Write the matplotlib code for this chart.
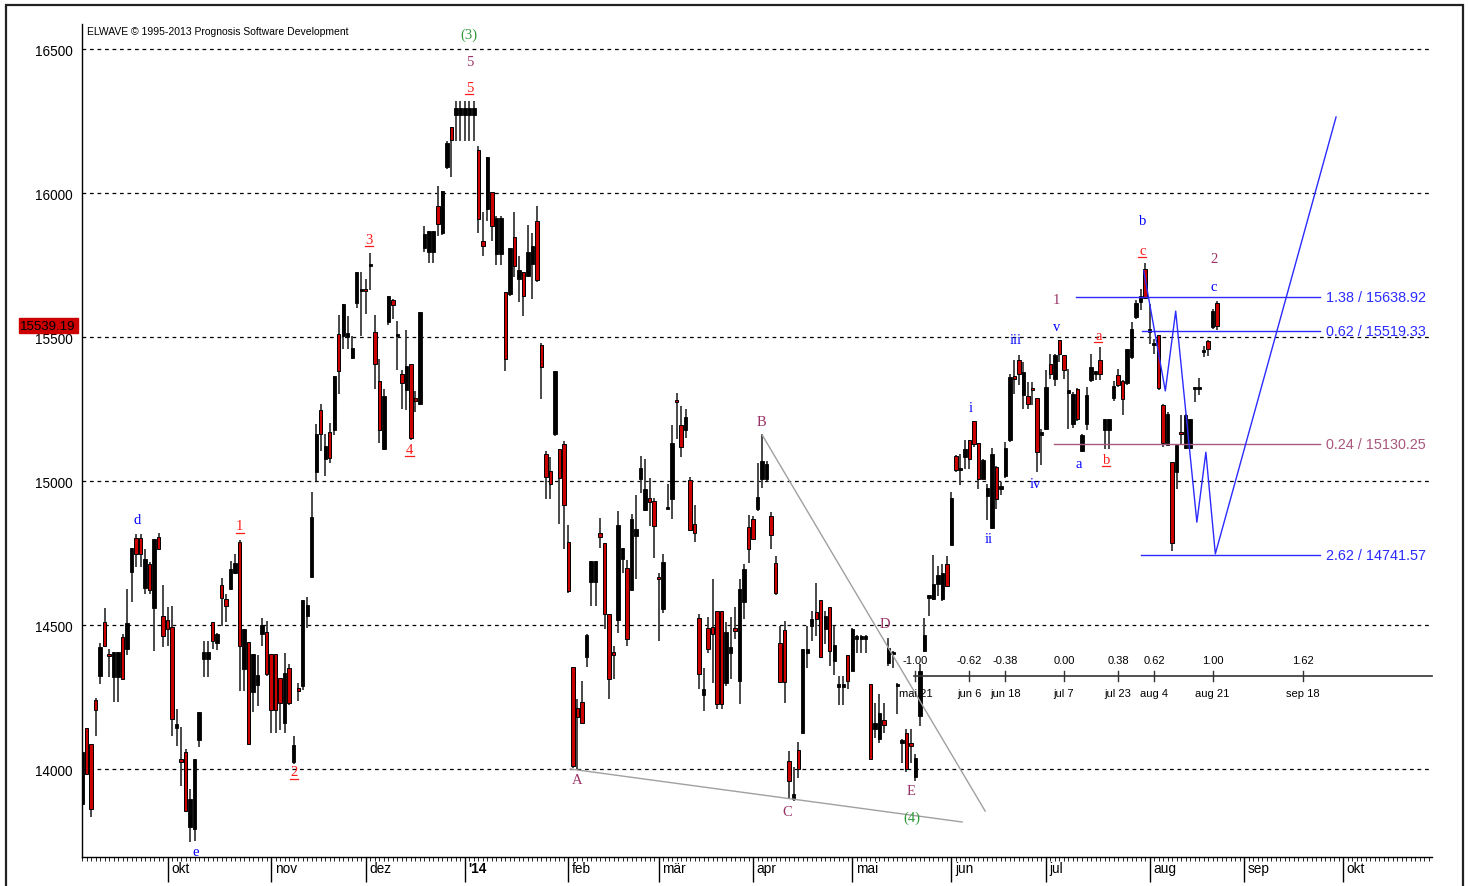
import matplotlib
matplotlib.use('Agg')
import matplotlib.pyplot as plt
import matplotlib.transforms as mtransforms
from matplotlib.patches import Rectangle
import numpy as np
import pandas as pd

# daily candles from 2013-09-04 to 2014-08-22, one per weekday
# (holidays repeat the bar before them, as ELWAVE draws it)
opens = [13878, 14141, 14087, 14240, 14324, 14509, 14399, 14318, 14318, 14457,
         14417, 14685, 14801, 14801, 14628, 14712, 14558, 14807, 14530, 14518,
         14492, 14141, 14028, 14058, 13797, 13792, 14102, 14382, 14382, 14509,
         14437, 14639, 14590, 14625, 14681, 14789, 14347, 14440, 14266, 14292,
         14469, 14475, 14400, 14400, 14316, 14159, 14352, 14025, 14283, 14288,
         14531, 14668, 15032, 15247, 15077, 15169, 15176, 15510, 15504, 15500,
         15427, 15619, 15660, 15668, 15745, 15516, 15349, 15110, 15553, 15629,
         15503, 15373, 15315, 15405, 15288, 15268, 15808, 15794, 15794, 15956,
         15863, 16089, 16231, 16271, 16271, 16271, 16271, 16271, 16150, 15834,
         15944, 16002, 15788, 15788, 15655, 15649, 15846, 15701, 15725, 15713,
         15753, 15902, 15472, 15094, 15036, 15163, 15110, 15130, 14789, 14355,
         14213, 14233, 14390, 14649, 14649, 14821, 14786, 14537, 14404, 14517,
         14730, 14699, 14622, 14809, 15008, 14898, 14942, 14931, 14664, 14554,
         14902, 14939, 15278, 15193, 15177, 15003, 14850, 14525, 14256, 14491,
         14494, 14549, 14549, 14300, 14404, 14491, 14306, 14580, 14840, 14869,
         14902, 15008, 15008, 14878, 14716, 14436, 14483, 14028, 13895, 14066,
         14126, 14404, 14497, 14545, 14587, 14485, 14564, 14375, 14286, 14286,
         14395, 14340, 14453, 14453, 14453, 14294, 14138, 14103, 14170, 14367,
         14398, 14288, 14092, 14126, 14089, 13973, 14184, 14410, 14595, 14589,
         14641, 14589, 14711, 14777, 15087, 15037, 15083, 15141, 15207, 15132,
         15006, 14948, 14837, 15049, 14971, 15017, 15141, 15361, 15419, 15300,
         15297, 15321, 15288, 15161, 15182, 15407, 15355, 15488, 15436, 15307,
         15199, 15318, 15106, 15199, 15350, 15373, 15422, 15176, 15176, 15288,
         15369, 15346, 15341, 15431, 15569, 15622, 15735, 15517, 15473, 15508,
         15263, 15126, 15066, 15031, 15170, 15115, 15115, 15318, 15319, 15448,
         15485, 15535, 15618]
highs = [14058, 14141, 14087, 14246, 14436, 14558, 14417, 14405, 14405, 14469,
         14625, 14767, 14816, 14816, 14764, 14718, 14799, 14818, 14639, 14561,
         14565, 14208, 14145, 14069, 13930, 14035, 14197, 14445, 14445, 14511,
         14474, 14665, 14608, 14723, 14747, 14795, 14486, 14440, 14399, 14396,
         14523, 14515, 14400, 14400, 14316, 14403, 14365, 14114, 14298, 14586,
         14596, 14962, 15197, 15269, 15164, 15203, 15365, 15576, 15615, 15572,
         15505, 15725, 15725, 15700, 15793, 15576, 15424, 15318, 15644, 15632,
         15554, 15384, 15524, 15405, 15313, 15586, 15887, 15869, 15869, 16025,
         16008, 16182, 16231, 16321, 16321, 16321, 16321, 16321, 16162, 15933,
         16124, 16002, 15921, 15921, 15655, 15808, 15935, 15780, 15725, 15889,
         15863, 15956, 15481, 15105, 15082, 15383, 15110, 15139, 14846, 14355,
         14242, 14306, 14468, 14722, 14722, 14873, 14786, 14537, 14427, 14896,
         14768, 14726, 14884, 14950, 15087, 15078, 15012, 14942, 14682, 14746,
         14988, 15194, 15307, 15260, 15251, 15015, 14916, 14537, 14352, 14529,
         14659, 14549, 14549, 14510, 14529, 14564, 14659, 14711, 14881, 14878,
         15064, 15162, 15069, 14892, 14740, 14497, 14514, 14062, 14006, 14094,
         14418, 14497, 14549, 14647, 14587, 14549, 14564, 14497, 14323, 14323,
         14395, 14491, 14464, 14464, 14464, 14294, 14230, 14259, 14230, 14456,
         14410, 14300, 14104, 14140, 14140, 14051, 14363, 14526, 14603, 14742,
         14705, 14711, 14740, 14962, 15091, 15095, 15141, 15141, 15207, 15132,
         15076, 14991, 15115, 15052, 14997, 15135, 15373, 15419, 15439, 15413,
         15344, 15344, 15288, 15179, 15384, 15442, 15442, 15488, 15436, 15390,
         15309, 15323, 15164, 15326, 15442, 15381, 15465, 15216, 15216, 15346,
         15388, 15350, 15457, 15552, 15627, 15668, 15758, 15616, 15494, 15508,
         15269, 15240, 15066, 15124, 15228, 15234, 15216, 15326, 15358, 15469,
         15488, 15598, 15624]
lows = [13838, 13983, 13832, 14116, 14295, 14422, 14318, 14234, 14234, 14312,
        14397, 14579, 14700, 14700, 14607, 14607, 14409, 14762, 14424, 14428,
        14113, 14081, 13942, 13855, 13745, 13751, 14075, 14318, 14318, 14417,
        14414, 14498, 14509, 14623, 14678, 14272, 14272, 14087, 14197, 14220,
        14428, 14324, 14124, 14124, 14136, 14124, 14224, 14019, 14236, 14273,
        14490, 14668, 14999, 15105, 15017, 15064, 15160, 15303, 15458, 15458,
        15424, 15600, 15505, 15580, 15663, 15321, 15133, 15107, 15541, 15564,
        15384, 15251, 15246, 15142, 15241, 15263, 15794, 15756, 15756, 15850,
        15854, 16083, 16054, 16182, 16182, 16182, 16182, 16182, 15863, 15782,
        15904, 15834, 15750, 15750, 15383, 15643, 15707, 15620, 15574, 15711,
        15632, 15690, 15285, 14938, 14938, 15157, 14850, 14763, 14612, 14004,
        13999, 14159, 14355, 14566, 14566, 14769, 14485, 14243, 14314, 14474,
        14682, 14428, 14618, 14659, 14960, 14896, 14844, 14734, 14444, 14542,
        14902, 14869, 15145, 15084, 15148, 14826, 14788, 14279, 14200, 14402,
        14297, 14207, 14207, 14287, 14312, 14450, 14225, 14520, 14717, 14795,
        14896, 14977, 15000, 14763, 14603, 14302, 14230, 13895, 13889, 13970,
        14126, 14352, 14445, 14462, 14390, 14433, 14358, 14325, 14221, 14221,
        14277, 14340, 14404, 14404, 14404, 14034, 14109, 14089, 14126, 14358,
        14352, 14190, 14022, 13990, 14022, 13958, 14150, 14407, 14531, 14587,
        14601, 14583, 14635, 14777, 15031, 14985, 15043, 15043, 15118, 14973,
        15006, 14863, 14834, 14904, 14950, 15010, 15135, 15303, 15334, 15249,
        15251, 15263, 15031, 15054, 15176, 15355, 15330, 15413, 15355, 15182,
        15184, 15210, 15100, 15176, 15344, 15350, 15350, 15112, 15112, 15279,
        15326, 15230, 15332, 15425, 15564, 15593, 15633, 15477, 15442, 15315,
        15118, 15124, 14756, 14973, 15124, 15112, 15112, 15274, 15298, 15431,
        15434, 15527, 15523]
closes = [14058, 13983, 13861, 14206, 14425, 14428, 14391, 14405, 14405, 14312,
          14506, 14767, 14746, 14746, 14731, 14622, 14799, 14764, 14461, 14486,
          14174, 14156, 14026, 13855, 13896, 14035, 14197, 14405, 14405, 14445,
          14469, 14593, 14565, 14694, 14714, 14428, 14486, 14087, 14399, 14326,
          14500, 14330, 14205, 14205, 14230, 14333, 14230, 14084, 14270, 14586,
          14568, 14875, 15164, 15164, 15123, 15079, 15365, 15381, 15615, 15515,
          15461, 15725, 15666, 15660, 15750, 15408, 15176, 15296, 15644, 15610,
          15510, 15340, 15400, 15151, 15278, 15586, 15858, 15869, 15869, 15892,
          16008, 16174, 16185, 16294, 16294, 16294, 16294, 16294, 15910, 15817,
          16124, 15884, 15912, 15912, 15424, 15808, 15748, 15734, 15644, 15794,
          15817, 15699, 15395, 15013, 14990, 15383, 15012, 14916, 14618, 14010,
          14182, 14159, 14464, 14722, 14722, 14807, 14537, 14314, 14397, 14846,
          14768, 14453, 14869, 14835, 15046, 14973, 14927, 14844, 14659, 14719,
          14908, 15133, 15274, 15119, 15222, 14830, 14821, 14329, 14277, 14418,
          14468, 14225, 14225, 14476, 14425, 14479, 14624, 14696, 14763, 14797,
          14946, 15069, 15060, 14811, 14610, 14302, 14302, 13958, 13912, 13999,
          14418, 14416, 14520, 14520, 14390, 14531, 14410, 14430, 14294, 14294,
          14305, 14487, 14460, 14460, 14460, 14034, 14161, 14196, 14152, 14421,
          14404, 14294, 14098, 13999, 14080, 14039, 14340, 14464, 14603, 14641,
          14672, 14682, 14635, 14942, 15037, 15045, 15110, 15078, 15130, 15006,
          15072, 14976, 15095, 14939, 14983, 15115, 15361, 15355, 15373, 15378,
          15269, 15315, 15101, 15168, 15327, 15373, 15436, 15442, 15384, 15315,
          15303, 15216, 15161, 15300, 15396, 15381, 15373, 15216, 15216, 15330,
          15332, 15286, 15457, 15527, 15619, 15642, 15635, 15527, 15480, 15323,
          15133, 15234, 14786, 15124, 15164, 15230, 15216, 15321, 15321, 15454,
          15457, 15589, 15539.19]
first_day = '2013-09-04'

month_labels = ['okt', 'nov', 'dez', "'14", 'feb', 'mär', 'apr', 'mai', 'jun', 'jul', 'aug', 'sep', 'okt']
month_starts = ['2013-10-01', '2013-11-01', '2013-12-01', '2014-01-01', '2014-02-01', '2014-03-01',
                '2014-04-01', '2014-05-01', '2014-06-01', '2014-07-01', '2014-08-01', '2014-09-01', '2014-10-01']
price_ticks = [14000, 14500, 15000, 15500, 16000, 16500]

# elliott wave labels (x in bar index, y in price)
wave_text = ['d', 'e', '1', '2', '3', '4', '5', '5', '(3)', 'A', 'B', 'C', 'D', 'E', '(4)',
             'i', 'ii', 'iii', 'iv', 'v', '1', 'a', 'a', 'b', 'b', 'c', '2', 'c']
wave_x = [12.3, 25.2, 35.0, 47.0, 63.8, 72.7, 86.0, 86.0, 86.0, 110.0, 150.8, 156.6, 178.3, 184.1, 184.3,
          197.2, 201.2, 207.2, 211.6, 216.3, 216.3, 221.2, 225.6, 227.4, 235.4, 235.4, 251.3, 251.3]
wave_y = [14868, 13715, 14844, 13990, 15840, 15111, 16368, 16458, 16552, 13962, 15205, 13851, 14507, 13927, 13833,
          15257, 14799, 15490, 14990, 15538, 15632, 15062, 15507, 15076, 15906, 15802, 15771, 15677]
wave_kind = ['minute', 'minute', 'minor', 'minor', 'minor', 'minor', 'minor', 'inter', 'primary',
             'inter', 'inter', 'inter', 'inter', 'inter', 'primary',
             'minute', 'minute', 'minute', 'minute', 'minute', 'inter', 'minute', 'minor', 'minor',
             'minute', 'minor', 'inter', 'minute']

# fibonacci price targets
fib_ratio = ['1.38', '0.62', '0.24', '2.62']
fib_level = [15638.92, 15519.33, 15130.25, 14741.57]
fib_start = [220.7, 235.4, 215.8, 235.2]
fib_kind = ['blue', 'blue', 'mauve', 'blue']

# projected path
proj_x = [235.7, 240.5, 242.8, 247.5, 249.5, 251.6, 278.4]
proj_y = [15730, 15313, 15590, 14857, 15100, 14747, 16264]

# triangle boundaries A-C-E and B-D
tri_lower_x = [108.4, 195.4]
tri_lower_y = [14000, 13816]
tri_upper_x = [151.0, 200.5]
tri_upper_y = [15160, 13854]

# time fibonacci ruler
tf_ratio = ['-1.00', '-0.62', '-0.38', '0.00', '0.38', '0.62', '1.00', '1.62']
tf_names = ['mai 21', 'jun 6', 'jun 18', 'jul 7', 'jul 23', 'aug 4', 'aug 21', 'sep 18']
tf_dates = ['2014-05-21', '2014-06-06', '2014-06-18', '2014-07-07', '2014-07-23', '2014-08-04',
            '2014-08-21', '2014-09-18']
tf_level = 14323

colors = {'minute': '#0000ff', 'minor': '#ff1a1a', 'inter': '#993366', 'primary': '#2f9a3a',
          'blue': '#2b2bff', 'mauve': '#a9587f'}

sans = 'Liberation Sans'
serif = 'Liberation Serif'

days = pd.bdate_range(first_day, '2014-12-31')


def day_index(d):
    return int(days.searchsorted(pd.Timestamp(d)))


fig = plt.figure(figsize=(14.7, 8.87), dpi=100)
fig.patch.set_facecolor('white')
ax = fig.add_axes([82 / 1470, 29 / 887, 1350 / 1470, 833 / 887])
ax.set_xlim(0.13, 299.7)
ax.set_ylim(13694.5, 16587)

for v in price_ticks:
    ax.axhline(v, color='black', lw=0.9, ls=(0, (3, 3)), zorder=1)

# candles
o = np.array(opens, dtype=float)
h = np.array(highs, dtype=float)
l = np.array(lows, dtype=float)
c = np.array(closes, dtype=float)
x = np.arange(len(c))
up = c >= o
ax.vlines(x, l, h, color='#3a3a3a', lw=1.3, zorder=2)
body_bot = np.minimum(o, c)
body_h = np.maximum(np.abs(c - o), 8)
ax.bar(x[up], body_h[up], bottom=body_bot[up], width=0.76, color='black',
       edgecolor='black', lw=0.6, zorder=3)
ax.bar(x[~up], body_h[~up], bottom=body_bot[~up], width=0.76, color='#cc0000',
       edgecolor='black', lw=0.7, zorder=3)

# triangle lines
ax.plot(tri_lower_x, tri_lower_y, color='#a0a0a0', lw=1.0, zorder=4)
ax.plot(tri_upper_x, tri_upper_y, color='#a0a0a0', lw=1.0, zorder=4)

# fib price levels
for r, lev, xs, k in zip(fib_ratio, fib_level, fib_start, fib_kind):
    ax.plot([xs, 274.9], [lev, lev], color=colors[k], lw=1.0, zorder=4)
    ax.text(276.2, lev, f'{r} / {lev:.2f}', color=colors[k], fontsize=10.4, family=sans,
            ha='left', va='center', zorder=5)

# projection
ax.plot(proj_x, proj_y, color=colors['blue'], lw=1.0, zorder=4)

# time ruler
tf_x = [day_index(d) for d in tf_dates]
ax.plot([tf_x[0] - 0.3, 299.7], [tf_level, tf_level], color='#333333', lw=1.2, zorder=4, clip_on=False)
for xx, r, n in zip(tf_x, tf_ratio, tf_names):
    ax.plot([xx, xx], [tf_level - 17, tf_level + 17], color='#333333', lw=1.0, zorder=4)
    ax.text(xx, tf_level + 56, r, fontsize=8, family=sans, ha='center', va='center', zorder=5)
    ax.text(xx, tf_level - 58, n, fontsize=8, family=sans, ha='center', va='center', zorder=5)

# wave labels
for t, wx, wy, k in zip(wave_text, wave_x, wave_y, wave_kind):
    ax.text(wx, wy, t, color=colors[k], fontsize=10.5, family=serif, ha='center', va='center', zorder=6)
    if k == 'minor':
        ax.plot([wx - 0.9, wx + 0.9], [wy - 25, wy - 25], color=colors[k], lw=0.9, zorder=6)

# axes styling
for s in ['top', 'right']:
    ax.spines[s].set_visible(False)
ax.spines['left'].set_linewidth(1.0)
ax.spines['bottom'].set_linewidth(1.0)

ax.set_yticks(price_ticks)
ax.set_yticklabels([str(v) for v in price_ticks], family=sans, fontsize=9.8)
ax.tick_params(axis='y', length=0, pad=7)

month_x = [day_index(d) for d in month_starts]
ax.set_xticks(month_x)
ax.set_xticklabels([''] * len(month_x))
ax.set_xticks(np.arange(0, 300), minor=True)
ax.tick_params(axis='x', which='major', length=18, width=1.0, direction='out')
ax.tick_params(axis='x', which='minor', length=3, width=0.6, direction='out')

bt = mtransforms.blended_transform_factory(ax.transData, ax.transAxes)
for mx, lab in zip(month_x, month_labels):
    ax.text(mx + 0.8, -0.0135, lab, transform=bt, fontsize=9.8, family=sans,
            fontweight='bold' if lab.startswith("'") else 'normal', ha='left', va='center')

# last price flag
lt = mtransforms.blended_transform_factory(ax.transAxes, ax.transData)
ax.text(-0.0045, closes[-1], f'{closes[-1]:.2f}', transform=lt, fontsize=9.5, family=sans,
        ha='right', va='center', color='black', clip_on=False, zorder=10,
        bbox=dict(boxstyle='square,pad=0.12', fc='#cc0000', ec='#cc0000'))

ax.text(5 / 1350, 1 - 7 / 833, 'ELWAVE \u00a9 1995-2013 Prognosis Software Development',
        transform=ax.transAxes, fontsize=7.5, family=sans, ha='left', va='center')

fig.add_artist(Rectangle((6 / 1470, -0.05), 1457 / 1470, 881 / 887 + 0.05,
                         transform=fig.transFigure, fill=False, ec='#222222', lw=1.6))

fig.savefig('out.png', dpi=100)
